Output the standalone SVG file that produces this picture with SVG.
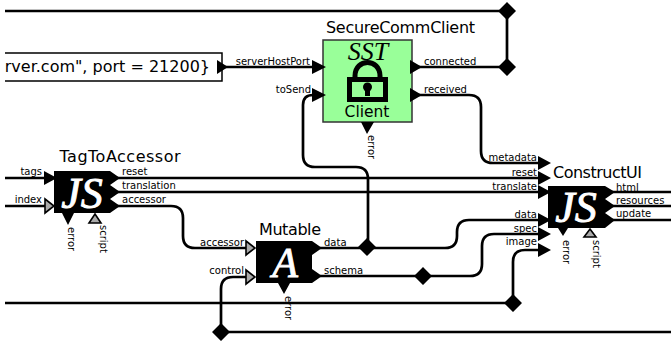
<svg xmlns="http://www.w3.org/2000/svg" width="671" height="343" viewBox="0 0 671 343">
<style>
text{font-family:"DejaVu Sans","Liberation Sans",sans-serif;fill:#000}
.t{font-size:16px;text-anchor:middle}
.p{font-size:10px}
.e{text-anchor:end}
.w{fill:none;stroke:#000;stroke-width:2.7}
.in{fill:#000;stroke:none}
.h{fill:#aaa;stroke:#000;stroke-width:1.6}
.g{font-family:"Liberation Serif",serif;font-style:italic;fill:#fff;stroke:#fff;stroke-width:.9;text-anchor:middle}
</style>
<defs><clipPath id="c"><rect x="5" y="50" width="220" height="34"/></clipPath></defs>
<g id="connectors">
<path class="w" d="M5 11H507V67M415 67H507"/>
<path class="w" d="M222 67H316"/>
<path class="w" d="M316 95H313Q303 95 303 105V155Q303 167 315 167H356Q368 167 368 179V247"/>
<path class="w" d="M415 95H469Q481 95 481 107V151Q481 163 493 163H542"/>
<path class="w" d="M5 178H45M5 206H45M110 178H542M110 192H542M110 206H171Q183 206 183 218V236Q183 248 195 248H246"/>
<path class="w" d="M320 248H445Q457 248 457 236V232Q457 220 469 220H542"/>
<path class="w" d="M320 276H470Q482 276 482 264V246Q482 234 494 234H542"/>
<path class="w" d="M5 303H513V262Q513 250 525 250H542"/>
<path class="w" d="M221 332V289Q221 277 233 277H246M221 332H671"/>
<path class="w" d="M612 192H671M612 206H671M612 220H671"/>
</g>
<g id="const">
<path d="M5 53H222V81H5" fill="#fff" stroke="#000" stroke-width="1.5"/>
<text clip-path="url(#c)" x="210" y="72" font-size="16" text-anchor="end">rver.com", port = 21200}</text>
<path class="in" d="M217 60L228 67L217 74Z"/>
</g>
<g id="SecureCommClient">
<text class="t" x="400.500" y="33" textLength="149">SecureCommClient</text>
<rect x="323" y="40" width="89" height="82" fill="#9f9" stroke="#333" stroke-width="1.5"/>
<text x="368" y="60" font-size="26" text-anchor="middle" style="font-family:'Liberation Serif',serif;font-style:italic">SST</text>
<path d="M355 78V76C355 58 380 58 380 76V78" fill="none" stroke="#000" stroke-width="5"/>
<rect x="349.500" y="79.500" width="36" height="20" fill="none" stroke="#000" stroke-width="5"/>
<circle cx="367.500" cy="87" r="4.500" fill="#000"/><rect x="365" y="87" width="5" height="9"/>
<text x="367" y="117" font-size="15.500" text-anchor="middle">Client</text>
<path class="in" d="M312 60L326 67L312 74ZM312 88L326 95L312 102ZM410 60L422 67L410 74ZM410 88L422 95L410 102ZM361 122H374L367 134Z"/>
<text class="p e" x="310" y="65">serverHostPort</text>
<text class="p e" x="311" y="93">toSend</text>
<text class="p" x="424" y="65">connected</text>
<text class="p" x="424" y="93">received</text>
<text class="p" transform="translate(372,135) rotate(90)" x="0" y="4">error</text>
</g>
<g id="TagToAccessor">
<text class="t" x="120" y="162" textLength="121">TagToAccessor</text>
<path class="in" d="M54 171H110L120 178L110 185L120 192L110 199L120 206L110 213H74L68 225L62 213H54Z"/>
<text class="g" x="82" y="208" font-size="44">JS</text>
<path class="in" d="M44 171L57 178L44 185Z"/>
<path class="h" d="M45 199L54 206L45 213Z"/>
<path class="h" d="M95 214L101 223H89Z"/>
<text class="p e" x="42" y="175">tags</text>
<text class="p e" x="42" y="203">index</text>
<text class="p" x="122" y="175">reset</text>
<text class="p" x="122" y="189">translation</text>
<text class="p" x="122" y="203">accessor</text>
<text class="p" transform="translate(72,227) rotate(90)" x="0" y="4">error</text>
<text class="p" transform="translate(104,225) rotate(90)" x="0" y="4">script</text>
</g>
<g id="Mutable">
<text class="t" x="290" y="235" textLength="62">Mutable</text>
<path class="in" d="M256 241H312L322 248L312 255V269L322 276L312 283H290L284 294L278 283H256Z"/>
<text class="g" x="285" y="277" font-size="42">A</text>
<path class="h" d="M246 241L255 248L246 255Z"/>
<path class="h" d="M246 270L255 277L246 284Z"/>
<text class="p e" x="244" y="246">accessor</text>
<text class="p e" x="244" y="274">control</text>
<text class="p" x="324" y="246">data</text>
<text class="p" x="324" y="274">schema</text>
<text class="p" transform="translate(289,296) rotate(90)" x="0" y="4">error</text>
</g>
<g id="ConstructUI">
<text class="t" x="597.500" y="178" textLength="89">ConstructUI</text>
<path class="in" d="M548 186H605L615 192L605 199L615 206L605 213L615 220L605 228H568L563 236L558 228H548Z"/>
<text class="g" x="576" y="222" font-size="44">JS</text>
<path class="in" d="M538 156L551 163L538 170ZM538 171L551 178L538 185ZM538 185L551 192L538 199ZM538 213L551 220L538 227ZM538 227L551 234L538 241ZM538 243L551 250L538 257Z"/>
<path class="h" d="M590 229L596 237H584Z"/>
<text class="p e" x="537" y="161">metadata</text>
<text class="p e" x="537" y="176">reset</text>
<text class="p e" x="537" y="190">translate</text>
<text class="p e" x="537" y="218">data</text>
<text class="p e" x="537" y="232">spec</text>
<text class="p e" x="537" y="245">image</text>
<text class="p" x="616" y="191">html</text>
<text class="p" x="616" y="204">resources</text>
<text class="p" x="616" y="217">update</text>
<text class="p" transform="translate(567,240) rotate(90)" x="0" y="4">error</text>
<text class="p" transform="translate(597,240) rotate(90)" x="0" y="4">script</text>
</g>
<g id="relations">
<path class="in" d="M507 2L516 11L507 20L498 11ZM507 58L516 67L507 76L498 67ZM367 238L376 247L367 256L358 247ZM423 267L432 276L423 285L414 276ZM513 294L522 303L513 312L504 303ZM221 323L230 332L221 341L212 332Z"/>
</g>
</svg>
